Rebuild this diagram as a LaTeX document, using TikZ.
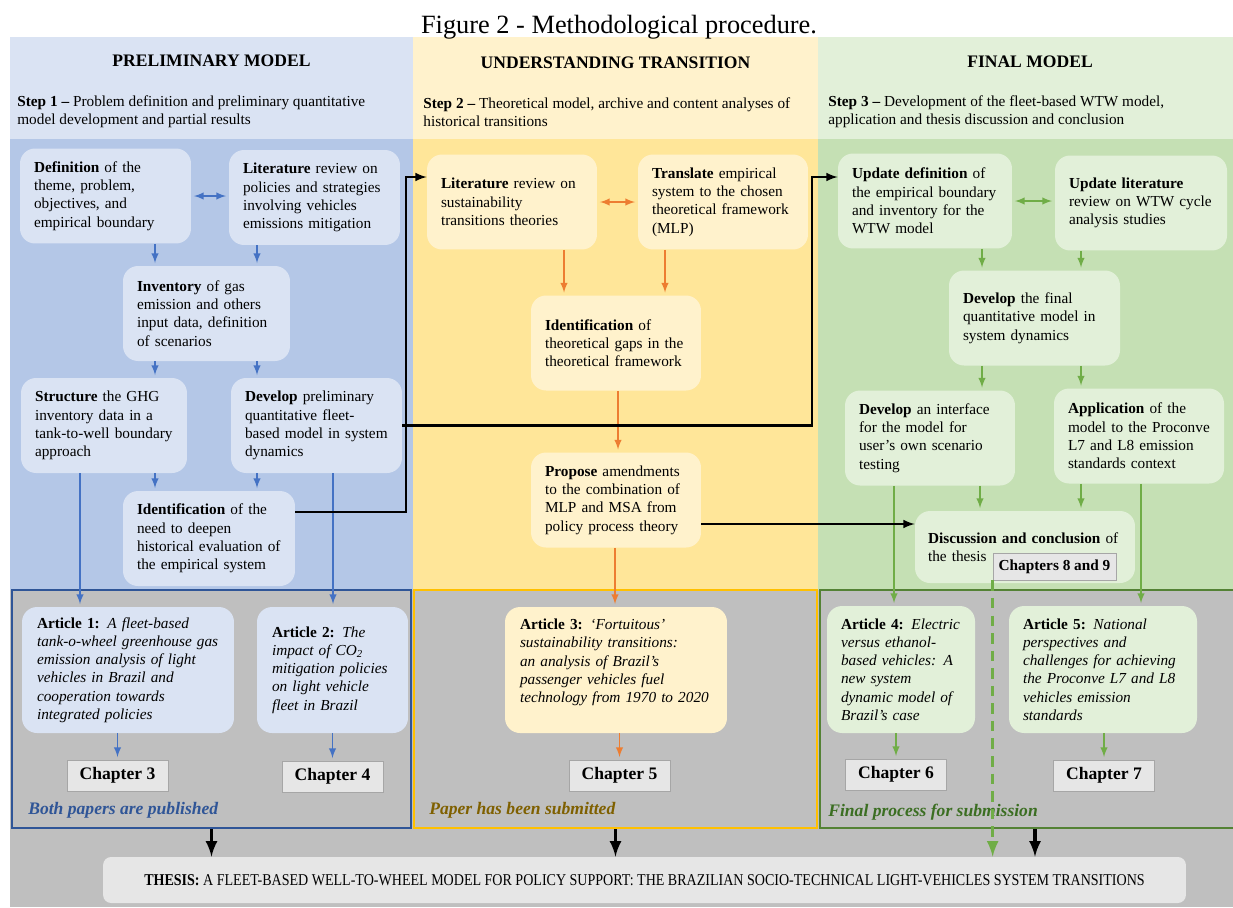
\documentclass[tikz,border=0pt]{standalone}
\usepackage{fontspec}
\setmainfont{Liberation Serif}
\usepackage{graphicx}
\usetikzlibrary{shapes,arrows,positioning,calc}

\definecolor{hdblue}{HTML}{DAE3F3}
\definecolor{bdblue}{HTML}{B4C7E7}
\definecolor{hdyel}{HTML}{FFF2CC}
\definecolor{bdyel}{HTML}{FFE699}
\definecolor{hdgrn}{HTML}{E2F0D9}
\definecolor{bdgrn}{HTML}{C5E0B4}
\definecolor{lnblue}{HTML}{4472C4}
\definecolor{lnorange}{HTML}{ED7D31}
\definecolor{lngreen}{HTML}{70AD47}
\definecolor{frblue}{HTML}{2F5597}
\definecolor{fryel}{HTML}{FFC000}
\definecolor{frgrn}{HTML}{548235}
\definecolor{bggray}{HTML}{BFBFBF}
\definecolor{chgray}{HTML}{E6E6E6}
\definecolor{txgold}{HTML}{7F6000}
\definecolor{txgrn}{HTML}{3B6E22}

\tikzset{
  box/.style={rounded corners=0.3cm, align=left, inner xsep=0.28cm, inner ysep=0pt, text width=2.84cm, minimum height=1.9cm, font=\fontsize{8.7}{10.4}\selectfont},
  bbox/.style={box, fill=hdblue},
  ybox/.style={box, fill=hdyel},
  gbox/.style={box, fill=hdgrn},
  chap/.style={draw=gray!70, fill=chgray, minimum width=2.02cm, minimum height=0.62cm, inner sep=0pt, font=\fontsize{10}{12}\selectfont\bfseries},
  frame/.style={line width=1.2pt, minimum height=4.76cm, inner sep=0pt},
  barr/.style={->, >=latex, lnblue, line width=0.9pt, shorten >=1.5pt},
  oarr/.style={->, >=latex, lnorange, line width=0.9pt, shorten >=1.5pt},
  garr/.style={->, >=latex, lngreen, line width=0.9pt, shorten >=1.5pt},
  karr/.style={->, >=latex, black, line width=1.2pt},
  kbig/.style={->, >=latex, black, line width=2pt},
  head/.style={font=\fontsize{10}{12}\selectfont\bfseries},
  steptxt/.style={anchor=west, align=left, inner sep=0pt, font=\fontsize{8.7}{10.4}\selectfont},
  status/.style={anchor=west, inner sep=0pt, font=\fontsize{10}{12}\selectfont\bfseries\itshape}
}

\begin{document}
\begin{tikzpicture}[x=0.02cm, y=-0.02cm]
\useasboundingbox (0,0) rectangle (1233,907);
\fill[white] (0,0) rectangle (1233,907);

% panels
\fill[hdblue] (10,37) rectangle (413,139);
\fill[bdblue] (10,139) rectangle (413,590);
\fill[hdyel] (413,37) rectangle (818,139);
\fill[bdyel] (413,139) rectangle (818,590);
\fill[hdgrn] (818,37) rectangle (1233,139);
\fill[bdgrn] (818,139) rectangle (1233,590);
\fill[bggray] (10,590) rectangle (1233,907);

\node[font=\fontsize{15}{18}\selectfont, anchor=base] (title) at (619,33) {Figure 2 - Methodological procedure.};

\node[head] (h1) at (211.5,61) {PRELIMINARY MODEL};
\node[head] (h2) at (615.5,63) {UNDERSTANDING TRANSITION};
\node[head] (h3) at (1030,62) {FINAL MODEL};

\node[steptxt] (s1) at (17,112) {\textbf{Step 1 –} Problem definition and preliminary quantitative\\model development and partial results};
\node[steptxt] (s2) at (423,112) {\textbf{Step 2 –} Theoretical model, archive and content analyses of\\historical transitions};
\node[steptxt] (s3) at (828,112) {\textbf{Step 3 –} Development of the fleet-based WTW model,\\application and thesis discussion and conclusion};

% frames
\node[frame, draw=frblue, minimum width=7.98cm] (bfrm) at (211.5,709) {};
\node[frame, draw=fryel, minimum width=8.06cm] (yfrm) at (615.5,709) {};
\node[frame, draw=frgrn, minimum width=8.32cm] (gfrm) at (1028,709) {};

\node[status, frblue] (st1) at (28,810) {Both papers are published};
\node[status, txgold] (st2) at (429,810) {Paper has been submitted};
\node[status, txgrn] (st3) at (828,812) {Final process for submission};

% step 1
\node[bbox, text width=2.86cm] (def) at (105.5,196) {\textbf{Definition} of the\\theme, problem,\\objectives, and\\empirical boundary};
\node[bbox, text width=2.86cm] (litA) at (314.5,197.5) {\textbf{Literature} review on\\policies and strategies\\involving vehicles\\emissions mitigation};
\node[bbox, text width=2.78cm] (inv) at (206.5,313.5) {\textbf{Inventory} of gas\\emission and others\\input data, definition\\of scenarios};
\node[bbox, text width=2.76cm] (struct) at (104,425.5) {\textbf{Structure} the GHG\\inventory data in a\\tank-to-well boundary\\approach};
\node[bbox, text width=2.86cm] (devpre) at (316.5,425.5) {\textbf{Develop} preliminary\\quantitative fleet-\\based model in system\\dynamics};
\node[bbox, text width=2.88cm] (ident) at (209,538.5) {\textbf{Identification} of the\\need to deepen\\historical evaluation of\\the empirical system};

% step 2
\node[ybox] (litB) at (512,202) {\textbf{Literature} review on\\sustainability\\transitions theories};
\node[ybox] (transl) at (723,202) {\textbf{Translate} empirical\\system to the chosen\\theoretical framework\\(MLP)};
\node[ybox] (gaps) at (616,343) {\textbf{Identification} of\\theoretical gaps in the\\theoretical framework};
\node[ybox] (propose) at (616,500) {\textbf{Propose} amendments\\to the combination of\\MLP and MSA from\\policy process theory};

% step 3
\node[gbox, text width=2.92cm] (upddef) at (925,201) {\textbf{Update definition} of\\the empirical boundary\\and inventory for the\\WTW model};
\node[gbox, text width=2.88cm] (updlit) at (1141,203) {\textbf{Update literature}\\review on WTW cycle\\analysis studies};
\node[gbox, text width=2.86cm] (devfin) at (1034.5,318) {\textbf{Develop} the final\\quantitative model in\\system dynamics};
\node[gbox] (devint) at (930,438) {\textbf{Develop} an interface\\for the model for\\user’s own scenario\\testing};
\node[gbox] (appl) at (1139,436) {\textbf{Application} of the\\model to the Proconve\\L7 and L8 emission\\standards context};
\node[gbox, inner xsep=0.26cm, text width=3.88cm, minimum height=1.44cm] (disc) at (1025,547) {\textbf{Discussion and conclusion} of\\the thesis};
\node[chap, minimum width=2.46cm, minimum height=0.54cm, font=\fontsize{8.7}{10.4}\selectfont\bfseries] (ch89) at (1054.5,566.5) {Chapters 8 and 9};

% articles
\node[bbox, inner xsep=0.3cm, text width=3.64cm, minimum height=2.52cm] (art1) at (128,670) {\textbf{Article 1:} \textit{A fleet-based}\\\textit{tank-o-wheel greenhouse gas}\\\textit{emission analysis of light}\\\textit{vehicles in Brazil and}\\\textit{cooperation towards}\\\textit{integrated policies}};
\node[bbox, inner xsep=0.3cm, text width=2.42cm, minimum height=2.52cm] (art2) at (332.5,670) {\textbf{Article 2:} \textit{The}\\\textit{impact of CO\textsubscript{2}}\\\textit{mitigation policies}\\\textit{on light vehicle}\\\textit{fleet in Brazil}};
\node[ybox, inner xsep=0.3cm, text width=3.84cm, minimum height=2.52cm] (art3) at (616,670) {\textbf{Article 3:} \textit{‘Fortuitous’}\\\textit{sustainability transitions:}\\\textit{an analysis of Brazil’s}\\\textit{passenger vehicles fuel}\\\textit{technology from 1970 to 2020}\\~};
\node[gbox, text width=2.4cm, minimum height=2.54cm] (art4) at (901,669.5) {\textbf{Article 4:} \textit{Electric}\\\textit{versus ethanol-}\\\textit{based vehicles: A}\\\textit{new system}\\\textit{dynamic model of}\\\textit{Brazil’s case}};
\node[gbox, text width=3.2cm, minimum height=2.54cm] (art5) at (1103,669.5) {\textbf{Article 5:} \textit{National}\\\textit{perspectives and}\\\textit{challenges for achieving}\\\textit{the Proconve L7 and L8}\\\textit{vehicles emission}\\\textit{standards}};

\node[chap] (ch3) at (117.5,775.5) {Chapter 3};
\node[chap] (ch4) at (332.5,776.5) {Chapter 4};
\node[chap] (ch5) at (619.5,775.5) {Chapter 5};
\node[chap] (ch6) at (896,774.5) {Chapter 6};
\node[chap] (ch7) at (1104,775.5) {Chapter 7};

\node[fill=chgray, rounded corners=0.16cm, minimum width=21.66cm, minimum height=0.92cm, inner sep=0pt] (thesis) at (644.5,880) {\scalebox{0.85}[1]{\fontsize{9.4}{11}\selectfont\textbf{THESIS:} A FLEET-BASED WELL-TO-WHEEL MODEL FOR POLICY SUPPORT: THE BRAZILIAN SOCIO-TECHNICAL LIGHT-VEHICLES SYSTEM TRANSITIONS}};

% step 1 links
\draw[barr, <->, shorten <=1.5pt] (def.east) -- (def.east -| litA.west);
\draw[barr] (def.south -| 155,0) -- (inv.north -| 155,0);
\draw[barr] (litA.south -| 257,0) -- (inv.north -| 257,0);
\draw[barr] (inv.south -| 155,0) -- (struct.north -| 155,0);
\draw[barr] (inv.south -| 257,0) -- (devpre.north -| 257,0);
\draw[barr] (struct.south -| 155,0) -- (ident.north -| 155,0);
\draw[barr] (devpre.south -| 257,0) -- (ident.north -| 257,0);
\draw[barr] (struct.south -| 80,0) -- (art1.north -| 80,0);
\draw[barr] (devpre.south -| 333,0) -- (art2.north -| 333,0);
\draw[barr] (art1.south -| ch3.north) -- (ch3.north);
\draw[barr] (art2.south -| ch4.north) -- (ch4.north);

% step 2 links
\draw[oarr, <->, shorten <=1.5pt] (litB.east) -- (transl.west);
\draw[oarr] (litB.south -| 564,0) -- (gaps.north -| 564,0);
\draw[oarr] (transl.south -| 665,0) -- (gaps.north -| 665,0);
\draw[oarr] (gaps.south -| 618,0) -- (propose.north -| 618,0);
\draw[oarr] (propose.south -| 615,0) -- (art3.north -| 615,0);
\draw[oarr] (art3.south -| ch5.north) -- (ch5.north);

% step 3 links
\draw[garr, <->, shorten <=1.5pt] (upddef.east) -- (upddef.east -| updlit.west);
\draw[garr] (upddef.south -| 982,0) -- (devfin.north -| 982,0);
\draw[garr] (updlit.south -| 1081,0) -- (devfin.north -| 1081,0);
\draw[garr] (devfin.south -| 982,0) -- (devint.north -| 982,0);
\draw[garr] (devfin.south -| 1081,0) -- (appl.north -| 1081,0);
\draw[garr] (devint.south -| 980,0) -- (disc.north -| 980,0);
\draw[garr] (appl.south -| 1081,0) -- (disc.north -| 1081,0);
\draw[garr] (devint.south -| 894,0) -- (art4.north -| 894,0);
\draw[garr] (appl.south -| 1141,0) -- (art5.north -| 1141,0);
\draw[garr] (art4.south -| ch6.north) -- (ch6.north);
\draw[garr] (art5.south -| ch7.north) -- (ch7.north);
\draw[garr, line width=2pt, dash pattern=on 6pt off 4pt, shorten >=0pt] (ch89.south west) -- (thesis.north -| ch89.south west);

% cross links
\draw[karr] (ident.east |- 0,512) -- (406,512) -- (406,177) -- (litB.west |- 0,177);
\draw[karr] (devpre.east) -- (812,425.5) -- (812,177) -- (upddef.west |- 0,177);
\draw[karr] (propose.east |- 0,524) -- (disc.west |- 0,524);

\draw[kbig] (bfrm.south) -- (thesis.north -| bfrm.south);
\draw[kbig] (yfrm.south) -- (thesis.north -| yfrm.south);
\draw[kbig] (gfrm.south -| 1035,0) -- (thesis.north -| 1035,0);
\end{tikzpicture}
\end{document}
